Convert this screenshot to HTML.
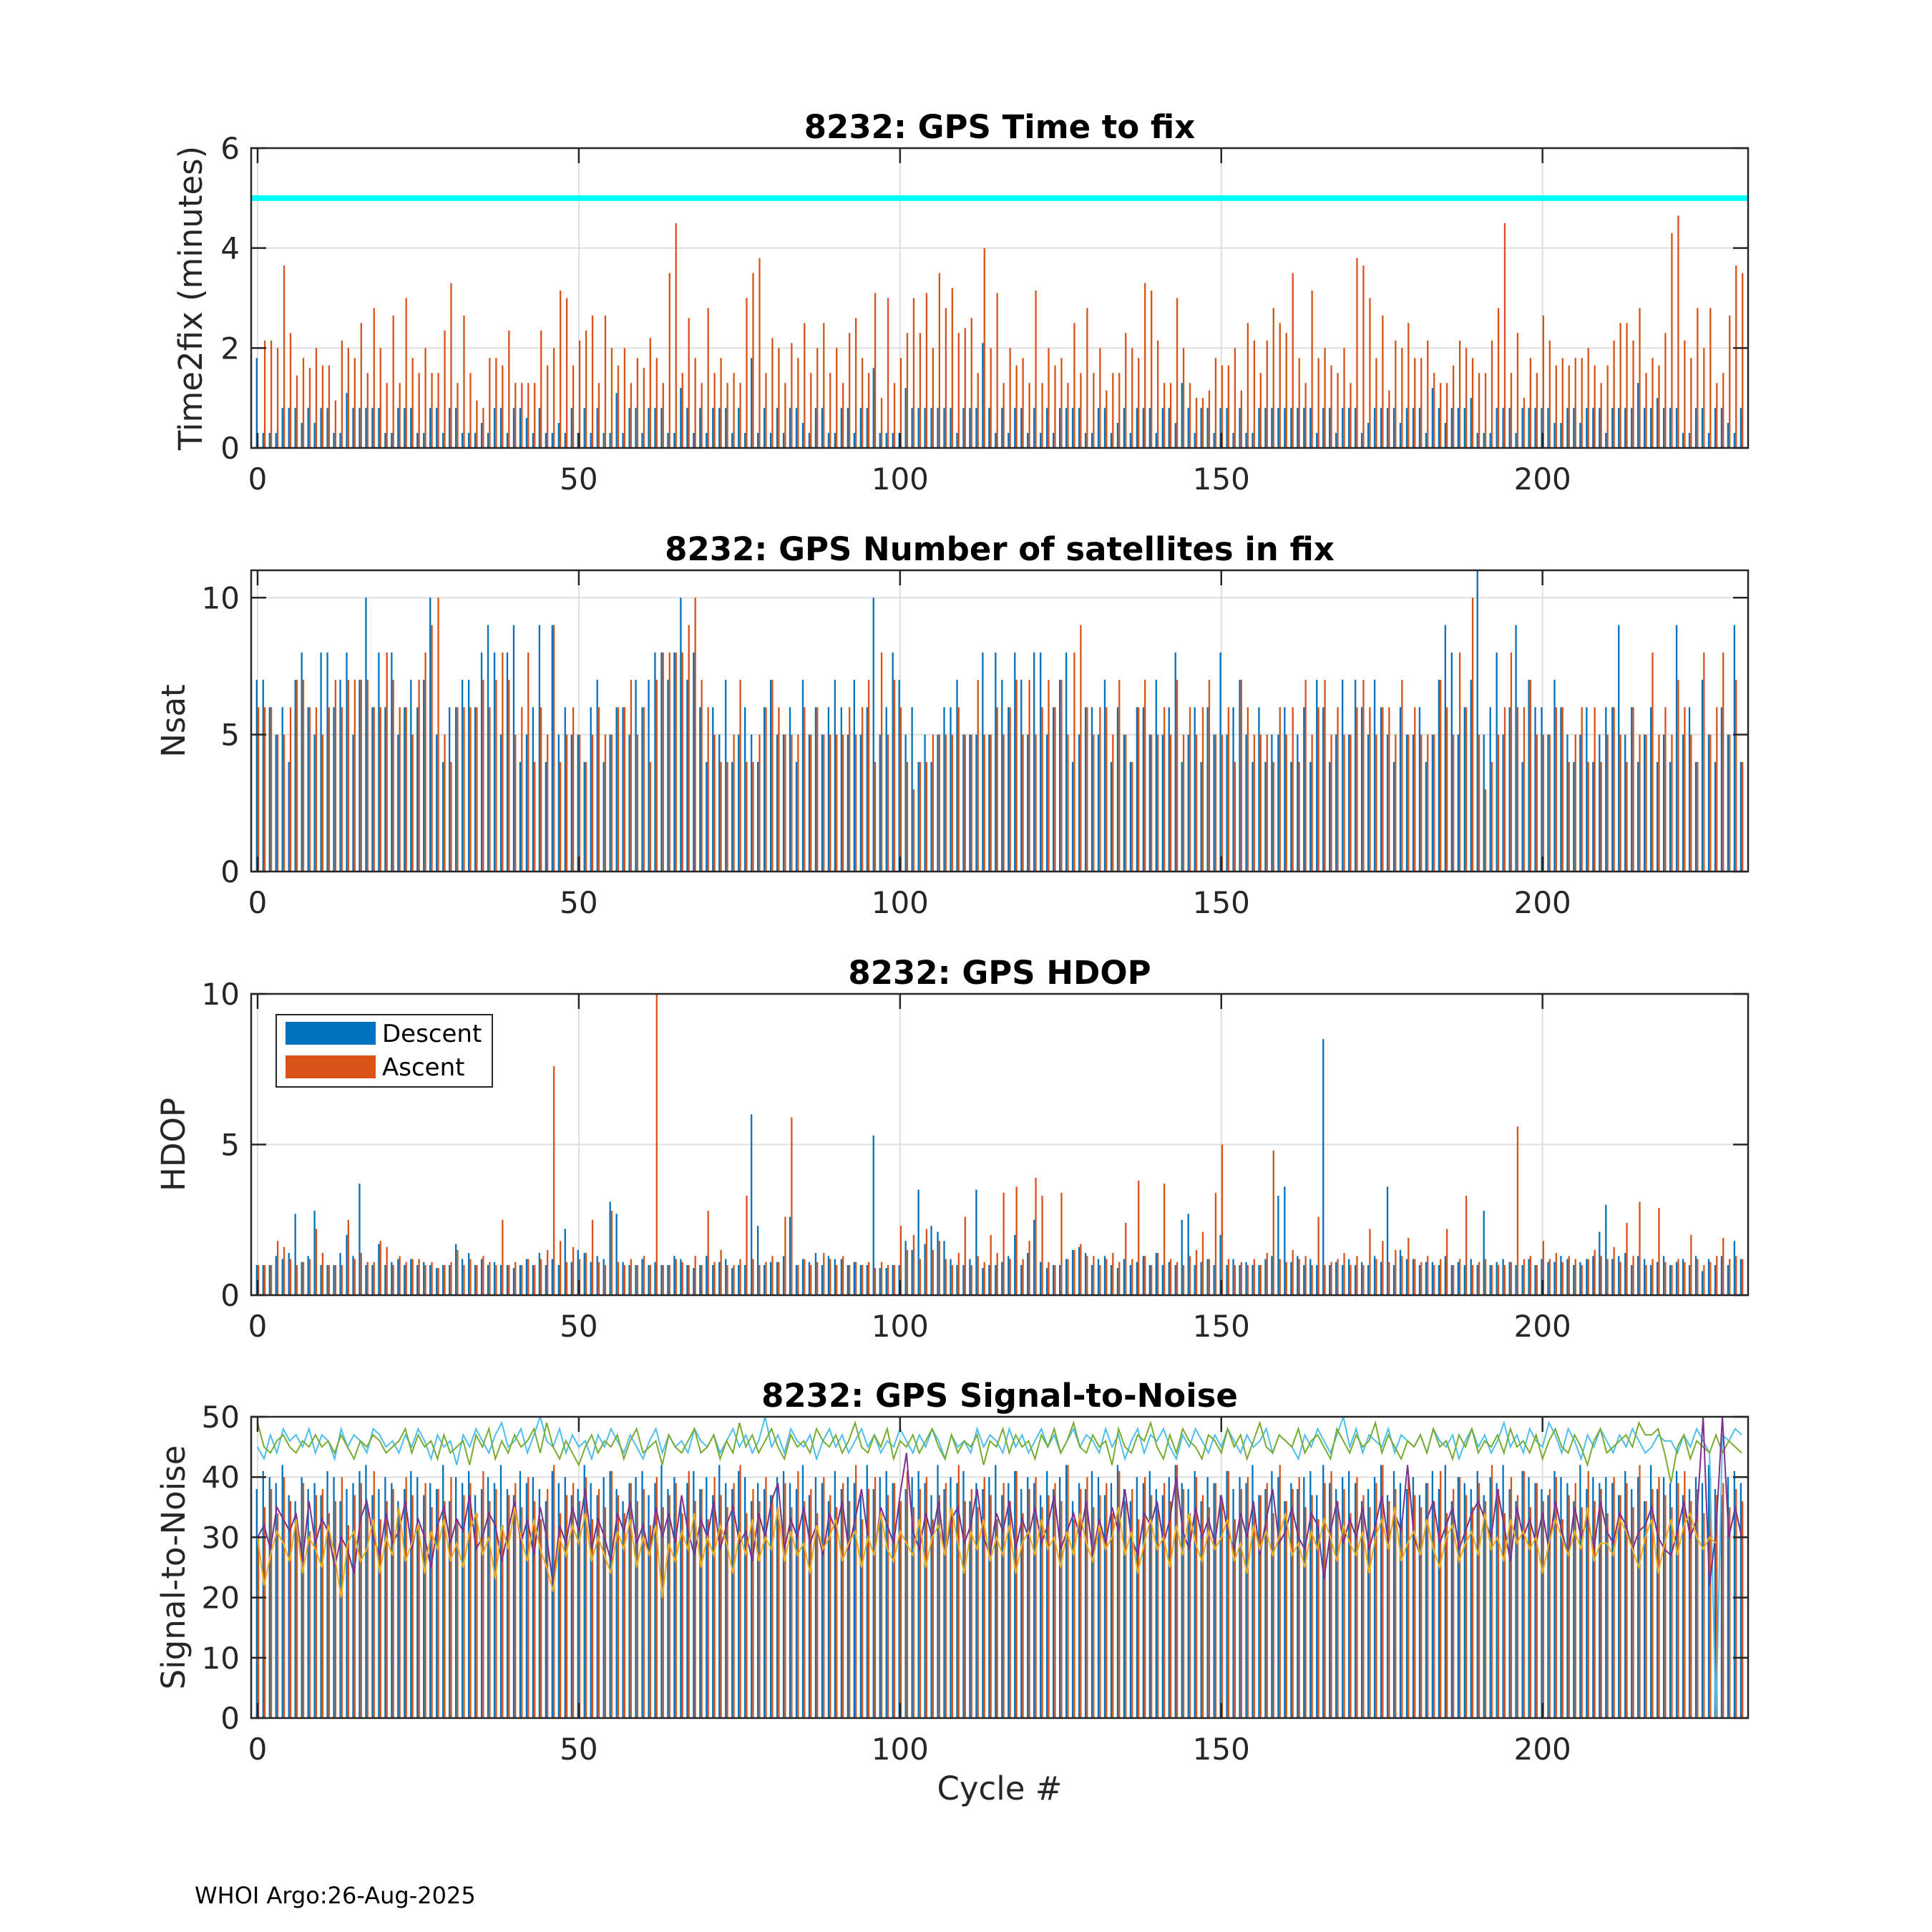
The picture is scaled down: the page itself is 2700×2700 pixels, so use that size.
<!DOCTYPE html>
<html><head><meta charset="utf-8"><style>
html,body{margin:0;padding:0;background:#fff}
svg{display:block;font-family:"DejaVu Sans","Liberation Sans",sans-serif}
</style></head><body>
<svg id="fig" xmlns="http://www.w3.org/2000/svg" width="2700" height="2700" viewBox="0 0 2700 2700">
<rect width="2700" height="2700" fill="#fff"/>
</svg>
<script>
const xTicks=[0,50,100,150,200];
const nCycles=232;
const tDesc=[1.8,0.3,0.3,0.3,0.8,0.8,0.8,0.5,0.8,0.5,0.8,0.8,0.3,0.3,1.1,0.8,0.8,0.8,0.8,0.8,0.3,0.3,0.8,0.8,0.8,0.3,0.3,0.8,0.8,0.3,0.8,0.8,0.3,0.3,0.3,0.5,0.3,0.8,0.8,0.3,0.8,0.8,0.6,0.3,0.8,0.3,0.3,0.5,0.3,0.8,0.3,0.8,0.3,0.8,0.3,0.3,1.1,0.3,0.8,0.8,0.3,0.8,0.8,0.8,0.3,0.3,1.2,0.8,0.3,0.8,0.3,0.8,0.8,0.8,0.3,0.8,0.3,1.8,0.3,0.8,0.3,0.8,0.3,0.8,0.8,0.5,0.3,0.8,0.8,0.3,0.3,0.8,0.8,0.3,0.8,0.8,1.6,0.3,0.3,0.3,0.3,1.2,0.8,0.8,0.8,0.8,0.8,0.8,0.8,0.3,0.8,0.8,0.8,2.1,0.8,0.3,0.8,0.3,0.8,0.8,0.3,0.8,0.3,0.8,0.3,0.8,0.8,0.8,0.8,0.3,0.3,0.8,0.8,0.3,0.5,0.8,0.3,0.8,0.8,0.8,0.3,0.8,0.8,0.5,1.3,0.8,0.3,0.8,0.8,0.3,0.8,0.8,0.3,0.8,0.3,0.3,0.8,0.8,0.8,0.8,0.8,0.8,0.8,0.8,0.8,0.3,0.8,0.8,0.3,0.8,0.8,0.8,0.3,0.5,0.8,0.8,0.8,0.8,0.5,0.8,0.8,0.8,0.3,1.2,0.8,0.5,0.8,0.8,0.8,1.0,0.3,0.3,0.3,0.8,0.8,0.8,0.3,0.8,0.8,0.8,0.8,0.8,0.5,0.5,0.8,0.8,0.5,0.8,0.8,0.8,0.3,0.8,0.8,0.8,0.8,1.3,0.8,0.8,1.0,0.8,0.8,0.8,0.3,0.3,0.8,0.8,0.3,0.8,0.8,0.5,0.3,0.8];
const tAsc=[0,2.15,2.15,2.0,3.65,2.3,1.45,1.8,1.6,2.0,1.65,1.65,0.95,2.15,2.0,1.8,2.5,1.5,2.8,2.0,1.3,2.65,1.3,3.0,1.8,1.5,2.0,1.5,1.5,2.35,3.3,1.3,2.65,1.5,0.95,0.8,1.8,1.8,1.65,2.35,1.3,1.3,1.3,1.3,2.35,1.65,2.0,3.15,3.0,1.65,2.15,2.35,2.65,1.3,2.65,2.0,1.65,2.0,1.3,1.8,1.6,2.2,1.8,1.3,3.5,4.5,1.5,2.6,1.8,1.3,2.8,1.5,1.8,1.3,1.5,1.3,3.0,3.5,3.8,1.5,2.2,2.0,1.3,2.1,1.8,2.5,1.5,2.0,2.5,1.5,2.0,1.3,2.3,2.6,1.8,1.5,3.1,1.0,3.0,1.3,1.8,2.3,3.0,2.3,3.1,2.0,3.5,2.8,3.2,2.3,2.4,2.6,1.5,4.0,2.0,3.1,1.3,2.0,1.65,1.8,1.3,3.15,1.3,2.0,1.65,1.8,1.3,2.5,1.5,2.8,1.5,2.0,1.15,1.5,1.5,2.3,2.0,1.8,3.3,3.15,2.15,1.3,1.3,3.0,2.0,1.3,1.0,1.0,1.15,1.8,1.65,1.65,2.0,1.15,2.5,2.15,1.5,2.15,2.8,2.5,2.3,3.5,1.8,1.3,3.15,1.8,2.0,1.65,1.5,2.0,1.3,3.8,3.65,3.0,1.8,2.65,1.15,2.15,2.0,2.5,1.8,1.8,2.15,1.5,1.3,1.3,1.65,2.15,2.0,1.8,1.5,1.5,2.15,2.8,4.5,1.5,2.3,1.0,1.8,1.5,2.65,2.15,1.65,1.8,1.65,1.8,1.8,2.0,1.65,1.3,1.65,2.15,2.5,2.5,2.15,2.8,1.5,1.8,1.65,2.3,4.3,4.65,2.15,1.8,2.8,2.0,2.8,1.3,1.5,2.65,3.65,3.5];
const tLimit=5;
const nDesc=[7,7,6,5,6,4,7,8,6,5,8,8,6,7,8,5,7,10,6,8,6,8,5,6,7,6,7,10,5,4,6,6,7,7,6,8,9,8,5,8,9,4,5,6,9,4,9,5,6,5,5,4,6,7,4,5,6,6,5,7,6,7,8,8,7,8,10,7,8,6,4,6,5,7,4,5,6,5,4,6,7,5,5,6,4,7,5,6,5,6,7,6,5,7,5,6,10,5,6,8,7,5,6,4,5,4,5,6,6,7,5,5,5,8,5,8,7,6,8,7,5,8,8,5,6,7,8,4,5,6,6,5,7,4,6,5,4,6,6,5,7,5,6,8,4,5,6,4,6,5,8,5,6,7,5,4,6,4,5,5,6,4,5,6,4,7,6,4,5,7,5,7,6,5,7,6,5,4,6,5,5,6,4,5,7,9,8,5,6,7,11,5,6,8,5,6,9,4,7,6,6,5,7,6,5,4,5,6,4,5,6,6,9,5,6,4,5,6,4,5,4,9,5,6,4,7,5,4,6,5,9,4,6,5];
const nAsc=[6,6,6,5,5,6,7,7,6,6,5,6,7,6,7,7,7,7,6,6,8,7,6,6,5,7,8,9,10,5,4,6,6,6,6,7,6,7,8,7,5,6,8,4,6,5,9,4,5,6,5,4,5,6,5,5,6,6,7,5,6,4,7,8,8,8,8,9,10,7,6,5,4,4,5,7,4,4,5,6,7,6,5,5,5,6,5,6,5,5,5,5,6,5,6,7,4,8,5,7,6,4,3,4,4,5,5,5,5,6,5,5,7,5,5,6,5,6,7,5,7,5,6,7,6,7,5,8,9,6,5,6,6,5,7,5,4,6,7,5,5,6,5,7,5,6,5,6,7,5,5,6,4,7,6,5,5,5,4,6,5,6,4,7,5,6,7,5,6,5,5,6,7,6,5,6,6,5,7,5,6,5,5,5,7,6,5,8,6,10,5,3,4,5,6,8,6,6,7,5,5,5,6,6,4,5,6,4,6,4,5,6,5,4,6,5,5,8,5,6,5,7,6,5,4,8,5,6,8,5,7,4,7,6];
const hDesc=[1.0,1.0,1.0,1.3,1.2,1.4,2.7,1.1,1.3,2.8,1.0,1.0,1.0,1.4,2.0,1.3,3.7,1.0,1.0,1.7,1.0,1.1,1.2,1.0,1.2,1.0,1.1,1.0,0.9,1.0,1.0,1.7,1.2,1.4,1.0,1.2,1.0,1.1,1.0,1.0,0.9,1.0,1.2,1.0,1.4,1.0,1.2,1.0,2.2,1.1,1.5,1.4,1.1,1.3,1.2,3.1,2.7,1.1,1.0,1.0,1.2,1.0,1.1,1.0,1.0,1.3,1.2,1.0,0.9,1.0,1.3,1.0,1.1,1.2,0.9,1.0,1.0,6.0,2.3,1.0,1.1,1.1,1.3,2.6,1.0,1.2,1.1,1.4,1.0,1.3,1.2,1.2,1.0,1.1,1.0,1.0,5.3,0.9,0.9,1.0,1.0,1.8,1.5,3.5,1.7,2.3,2.1,1.8,1.2,1.0,1.0,1.2,3.5,0.9,1.0,1.0,1.1,1.3,2.0,1.0,1.4,2.5,1.1,0.9,1.0,1.0,1.2,1.5,1.6,1.4,1.0,1.2,1.3,1.0,0.9,1.2,1.0,1.1,1.3,1.0,1.4,1.0,1.1,1.0,2.5,2.7,1.0,1.1,1.2,1.0,2.0,1.0,1.2,1.0,1.1,1.0,1.0,1.2,1.3,3.3,3.6,1.1,1.3,1.0,1.2,1.0,8.5,1.0,1.1,1.0,1.2,1.0,1.1,1.0,1.3,1.1,3.6,1.0,1.5,1.2,1.2,1.0,1.1,1.1,1.0,1.3,1.0,1.1,1.0,1.2,1.0,2.8,1.0,1.1,1.2,1.1,1.0,1.0,1.2,1.0,1.2,1.1,1.1,1.3,1.2,1.0,1.1,1.2,1.3,2.1,3.0,1.2,1.3,1.4,1.0,1.3,1.2,1.0,1.1,1.3,1.0,1.1,1.2,1.0,1.3,0.8,1.2,1.0,1.3,1.0,1.8,1.2];
const hAsc=[1.0,1.0,1.0,1.8,1.6,1.2,1.0,1.1,1.2,2.2,1.4,1.0,1.0,1.0,2.5,1.2,1.4,1.1,1.1,1.8,1.6,1.0,1.3,1.1,1.2,1.2,1.0,1.1,0.9,1.0,1.1,1.5,1.0,1.2,1.0,1.3,1.1,1.0,2.5,1.0,1.1,1.0,1.2,1.0,1.2,1.5,7.6,1.8,1.1,1.6,1.2,1.4,2.5,1.1,1.0,2.8,1.1,1.0,1.2,1.0,1.3,1.0,10.0,1.0,1.0,1.2,1.1,1.0,1.3,1.0,2.8,1.1,1.5,1.0,1.0,1.2,3.3,1.2,1.0,1.1,1.3,1.1,2.6,5.9,1.0,1.2,1.0,1.1,1.4,1.2,1.0,1.3,1.0,1.1,1.0,1.1,0.9,1.1,1.0,1.0,2.3,1.5,2.0,1.2,2.2,1.5,1.8,1.2,1.0,1.4,2.6,1.0,1.3,1.1,2.0,1.4,3.4,1.2,3.6,1.2,1.8,3.9,3.3,1.1,1.0,3.4,1.2,1.5,1.7,1.3,1.3,1.0,1.2,1.4,1.1,2.4,1.2,3.8,1.3,1.0,1.4,3.7,1.2,1.1,1.0,1.3,1.5,2.1,1.2,3.4,5.0,1.2,1.0,1.1,1.0,1.2,1.0,1.4,4.8,1.2,1.1,1.5,1.2,1.3,1.0,2.6,1.0,1.1,1.2,1.4,1.0,1.3,1.0,2.2,1.2,1.8,1.1,1.5,1.3,1.9,1.2,1.1,1.3,1.0,1.2,2.2,1.0,1.2,3.3,1.0,1.1,1.2,1.0,1.0,1.0,1.1,5.6,1.2,1.3,1.0,1.8,1.2,1.4,1.1,1.3,1.2,1.0,1.2,1.5,1.3,1.2,1.6,1.1,2.4,1.3,3.1,1.0,1.2,2.9,1.1,1.0,1.2,1.1,2.0,1.2,1.0,1.1,1.3,1.9,1.2,1.3,1.2];
const sDesc=[38,41,40,39,42,37,36,40,38,39,37,41,40,36,38,39,41,42,37,38,40,39,36,38,41,40,37,39,38,42,36,40,39,41,37,38,40,39,42,38,37,41,39,40,38,36,41,39,40,37,38,42,39,37,40,41,38,36,39,40,41,37,39,42,38,40,36,39,41,38,40,37,42,39,38,41,40,36,39,38,37,40,41,39,38,42,37,40,39,36,41,38,40,39,37,42,38,40,41,39,36,38,40,41,39,37,42,38,40,39,41,36,39,38,40,42,37,39,41,38,40,39,37,41,38,40,42,36,39,38,41,40,37,39,42,38,36,40,39,41,38,37,40,42,39,38,41,36,40,39,37,41,38,40,39,42,37,38,41,40,36,39,38,40,41,37,42,39,38,40,41,39,36,38,40,42,37,41,39,38,40,37,39,41,38,42,36,40,39,38,41,37,40,39,42,38,36,41,40,39,38,37,41,40,39,36,42,38,40,39,40,39,37,41,38,40,36,42,38,40,39,41,37,38,40,39,42,38,37,40,41,39];
const sAsc=[30,35,38,34,40,36,33,39,31,37,38,34,36,40,32,37,39,35,41,33,36,38,34,40,37,32,39,35,38,36,40,33,37,39,34,41,36,38,32,37,39,35,40,36,33,38,42,34,37,39,36,40,33,38,35,41,37,34,39,36,38,32,40,35,37,39,34,41,36,38,33,40,37,35,39,42,34,38,36,40,37,33,39,35,41,36,38,34,40,37,35,39,36,42,33,38,40,34,37,39,36,41,35,38,40,33,37,39,34,42,36,38,35,40,37,33,39,36,41,34,38,40,35,37,39,36,42,33,38,40,35,37,39,34,41,36,38,33,40,37,35,39,36,42,38,34,40,37,35,39,36,41,33,38,40,35,37,39,34,42,36,38,40,35,37,33,39,41,36,38,34,40,37,35,39,42,36,38,33,40,37,35,39,36,41,34,38,40,37,35,39,36,42,38,34,40,37,41,35,39,36,38,40,33,37,39,35,41,36,38,34,40,37,39,35,42,36,38,40,37,35,39,41,36,38,34,40,37,39,35,38,36];
const snrCyan=[45,43,47,44,48,46,47,45,48,44,47,46,43,48,45,47,46,44,48,47,45,46,44,47,45,48,46,43,47,45,46,42,47,45,48,46,44,47,49,45,46,48,44,47,50,46,45,48,44,47,45,46,43,47,45,48,46,44,47,45,43,46,48,44,47,45,46,44,48,46,45,47,44,46,48,45,47,44,46,50,45,47,44,48,46,45,47,43,46,48,45,47,44,46,48,45,47,44,46,45,48,46,44,47,45,48,46,43,47,45,46,44,48,45,47,46,44,48,45,47,44,46,48,45,47,44,46,48,45,47,46,44,48,45,47,43,46,48,44,47,46,48,45,43,47,45,48,46,44,47,45,48,46,44,47,45,46,48,44,47,46,45,43,47,45,48,46,44,47,50,45,48,44,47,46,45,48,44,47,46,45,47,44,48,46,45,47,43,46,48,45,47,44,46,49,45,47,44,48,46,45,49,47,44,48,46,43,47,45,48,46,44,47,45,48,46,44,45,47,46,46,44,47,45,48,46,44,0,47,46,48,47];
const snrGreen=[49,45,44,46,47,45,44,46,45,47,45,46,44,47,45,43,46,45,47,46,44,45,46,48,44,47,45,46,43,47,44,45,46,42,47,45,48,43,46,44,47,45,46,48,44,49,45,43,46,44,42,45,47,44,46,45,47,43,46,48,44,45,46,42,47,45,44,46,48,44,45,47,43,46,44,49,45,47,44,46,48,45,43,47,45,46,44,48,46,45,47,44,46,49,45,44,47,45,48,43,46,45,47,44,46,48,45,43,47,44,46,45,47,42,46,45,48,44,47,45,46,43,47,45,48,44,46,49,45,44,47,45,46,42,48,45,44,47,46,49,45,43,47,44,48,46,45,43,47,46,44,48,45,47,43,46,49,45,44,47,46,45,48,44,46,47,45,43,48,46,44,47,45,46,49,44,47,45,43,46,45,47,44,48,45,46,43,47,45,48,44,46,45,47,44,48,45,46,44,47,43,46,48,45,44,47,45,42,46,48,44,45,46,47,45,49,47,47,48,44,39,45,47,43,46,45,44,47,44,46,45,44,46,44];
const snrPurple=[30,32,28,35,33,31,34,26,36,29,33,31,25,30,28,24,33,36,30,27,34,29,31,36,28,33,30,25,32,35,29,33,31,37,28,30,34,32,26,31,36,29,33,27,35,30,22,32,29,35,31,38,28,33,30,26,34,31,36,29,32,27,35,30,34,29,37,31,27,33,30,36,28,32,35,29,31,26,34,30,36,39,28,33,30,35,29,32,27,34,31,36,28,33,38,30,27,35,32,29,37,44,31,28,34,30,36,27,33,35,29,32,38,30,27,34,31,36,28,33,30,35,29,32,37,28,31,34,30,36,27,33,29,35,31,38,30,27,34,32,36,29,33,40,31,28,35,30,33,29,37,31,28,34,30,36,27,33,38,29,31,35,30,28,34,32,23,31,36,29,33,30,35,28,32,37,29,34,31,42,30,27,33,36,29,32,35,28,31,34,36,33,30,38,32,26,35,30,33,29,34,28,36,31,27,35,30,33,28,36,31,29,34,32,28,31,32,35,30,28,27,31,36,30,33,50,22,31,50,30,35,30,32,30];
const snrYellow=[30,22,27,31,29,26,33,24,30,28,25,32,27,20,29,31,26,28,33,24,30,27,35,26,29,32,24,31,28,33,26,29,25,31,34,27,30,23,32,28,35,30,26,33,28,25,21,30,27,32,29,34,26,30,27,24,31,28,33,25,30,27,32,20,29,26,31,28,34,25,30,27,32,29,24,31,27,33,26,30,28,35,26,31,27,29,24,32,28,30,33,26,29,31,25,30,27,34,28,26,31,29,27,33,25,30,32,27,35,29,24,31,28,33,26,30,27,32,24,29,31,27,33,28,30,25,31,27,34,29,26,32,28,30,35,27,31,24,29,33,28,30,25,32,27,34,29,26,31,28,30,33,26,29,24,32,28,31,27,30,34,27,29,25,31,28,33,30,26,32,29,27,31,24,30,33,28,35,26,29,31,27,33,28,25,30,32,26,29,31,27,34,28,30,26,33,29,31,28,30,24,29,33,30,27,31,28,35,26,29,29,27,33,31,28,25,30,33,24,29,33,27,32,34,30,28,30,29];

const NS='http://www.w3.org/2000/svg';
const svg=document.getElementById('fig');
const XL=351,XR=2443,XMIN=-1,XMAX=232;
function xs(v){return XL+(v-XMIN)/(XMAX-XMIN)*(XR-XL);}
function mk(tag,attrs,parent){const e=document.createElementNS(NS,tag);for(const k in attrs)e.setAttribute(k,attrs[k]);(parent||svg).appendChild(e);return e;}
const BLUE='#0072BD',ORANGE='#D95319',AX='#262626',GRID='#dfdfdf';

const panels=[
 {name:'time-to-fix',top:207,bot:626,ymax:6,yt:[0,2,4,6],title:'8232: GPS Time to fix',yl:'Time2fix (minutes)',ylx:282,d:tDesc,a:tAsc},
 {name:'nsat',top:797,bot:1218,ymax:11,yt:[0,5,10],title:'8232: GPS Number of satellites in fix',yl:'Nsat',ylx:258,d:nDesc,a:nAsc},
 {name:'hdop',top:1389,bot:1810,ymax:10,yt:[0,5,10],title:'8232: GPS HDOP',yl:'HDOP',ylx:258,d:hDesc,a:hAsc},
 {name:'snr',top:1980,bot:2401,ymax:50,yt:[0,10,20,30,40,50],title:'8232: GPS Signal-to-Noise',yl:'Signal-to-Noise',ylx:258,d:sDesc,a:sAsc}
];

panels.forEach((p,pi)=>{
 const g=mk('g',{});
 
 
 const ys=v=>p.bot-(v/p.ymax)*(p.bot-p.top);
 const grid=mk('g',{},g);
 
 
 xTicks.forEach(t=>{mk('line',{x1:xs(t),x2:xs(t),y1:p.top,y2:p.bot,stroke:GRID,'stroke-width':2},grid);});
 p.yt.forEach(t=>{mk('line',{x1:XL,x2:XR,y1:ys(t),y2:ys(t),stroke:GRID,'stroke-width':2},grid);});
 const bars=mk('g',{},g);
 
 
 const bw=2.3;
 p.d.slice(0,nCycles).forEach((v,i)=>{const r=mk('rect',{x:xs(i-0.13)-bw/2,y:ys(v),width:bw,height:Math.max(0,p.bot-ys(v)),fill:BLUE},bars);
  
  });
 p.a.slice(0,nCycles).forEach((v,i)=>{const r=mk('rect',{x:xs(i+0.13)-bw/2,y:ys(v),width:bw,height:Math.max(0,p.bot-ys(v)),fill:ORANGE},bars);
  
  });
 if(pi===0){
  const l=mk('line',{x1:XL,x2:XR,y1:ys(tLimit),y2:ys(tLimit),stroke:'#00FFFF','stroke-width':8},g);
  
  
 }
 if(pi===3){
  const series=[[snrCyan,'#4DBEEE','snr-cyan-line'],[snrGreen,'#77AC30','snr-green-line'],[snrPurple,'#7E2F8E','snr-purple-line'],[snrYellow,'#EDB120','snr-yellow-line']];
  const cp=mk('clipPath',{id:'clipsnr'},g);
  mk('rect',{x:XL,y:p.top,width:XR-XL,height:p.bot-p.top},cp);
  series.forEach(s=>{
   const pts=s[0].slice(0,nCycles).map((v,i)=>xs(i).toFixed(1)+','+ys(v).toFixed(1)).join(' ');
   const pl=mk('polyline',{points:pts,fill:'none',stroke:s[1],'stroke-width':2,'clip-path':'url(#clipsnr)'},g);
   
   
  });
 }
 const box=mk('rect',{x:XL,y:p.top,width:XR-XL,height:p.bot-p.top,fill:'none',stroke:AX,'stroke-width':2.5},g);
 
 
 const tl=21;
 xTicks.forEach(t=>{
  mk('line',{x1:xs(t),x2:xs(t),y1:p.bot,y2:p.bot-tl,stroke:AX,'stroke-width':2.5},g);
  mk('line',{x1:xs(t),x2:xs(t),y1:p.top,y2:p.top+tl,stroke:AX,'stroke-width':2.5},g);
  const tx=mk('text',{x:xs(t),y:p.bot+58,'font-size':42,fill:AX,'text-anchor':'middle'},g);
  tx.textContent=t;
  
  
 });
 p.yt.forEach(t=>{
  mk('line',{x1:XL,x2:XL+tl,y1:ys(t),y2:ys(t),stroke:AX,'stroke-width':2.5},g);
  mk('line',{x1:XR,x2:XR-tl,y1:ys(t),y2:ys(t),stroke:AX,'stroke-width':2.5},g);
  const ty=mk('text',{x:XL-16,y:ys(t)+15,'font-size':42,fill:AX,'text-anchor':'end'},g);
  ty.textContent=t;
  
  
 });
 const ti=mk('text',{x:(XL+XR)/2,y:p.top-14,'font-size':45,'font-weight':'bold',fill:'#000','text-anchor':'middle'},g);
 ti.textContent=p.title;
 
 
 const cy=(p.top+p.bot)/2;
 const yl=mk('text',{x:0,y:0,'font-size':45,fill:AX,'text-anchor':'middle',transform:'translate('+p.ylx+','+cy+') rotate(-90)'},g);
 yl.textContent=p.yl;
 
 
 if(pi===2){
  const lg=mk('g',{},g);
  
  
  mk('rect',{x:386,y:1418,width:302,height:101,fill:'#fff',stroke:AX,'stroke-width':2},lg);
  mk('rect',{x:399,y:1428,width:126,height:32,fill:BLUE},lg);
  mk('rect',{x:399,y:1475,width:126,height:32,fill:ORANGE},lg);
  const t1=mk('text',{x:534,y:1456,'font-size':34,fill:'#000'},lg);
  t1.textContent='Descent';
  
  
  const t2=mk('text',{x:534,y:1503,'font-size':34,fill:'#000'},lg);
  t2.textContent='Ascent';
  
  
 }
});
const xl=mk('text',{x:(XL+XR)/2,y:2515,'font-size':45,fill:AX,'text-anchor':'middle'});
xl.textContent='Cycle #';


const ft=mk('text',{x:272,y:2660,'font-size':32,fill:'#000'});
ft.textContent='WHOI Argo:26-Aug-2025';


</script>
</body></html>
